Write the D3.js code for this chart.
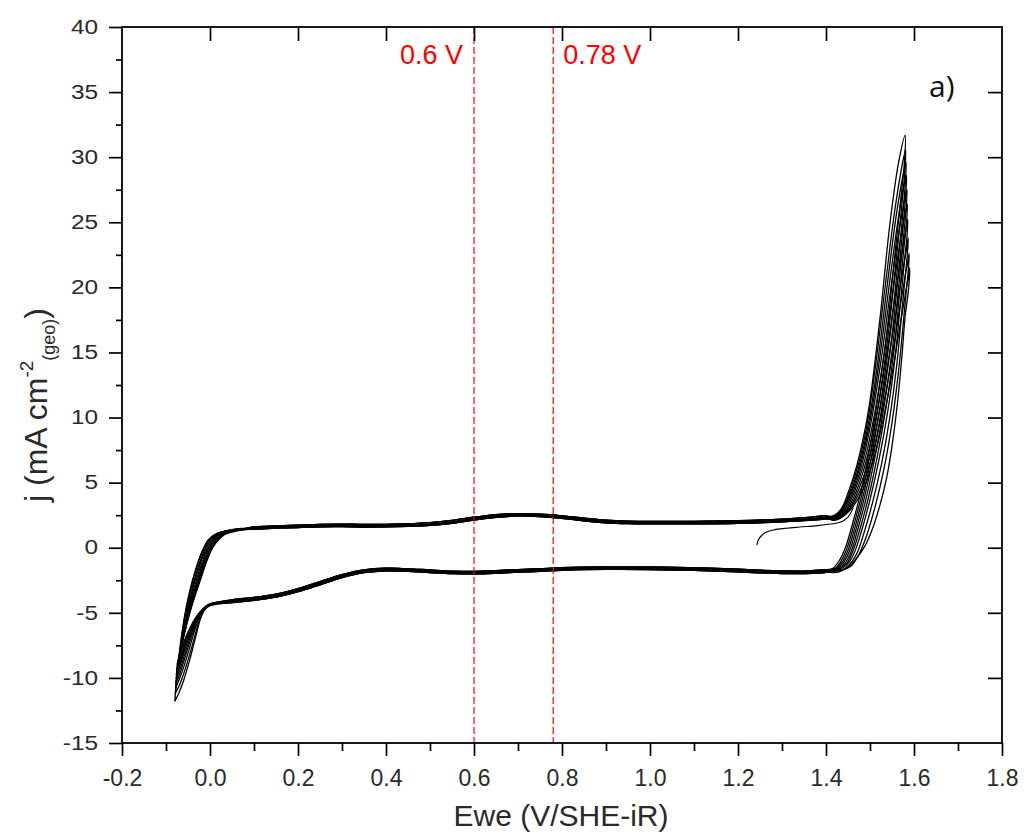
<!DOCTYPE html>
<html>
<head>
<meta charset="utf-8">
<script src="https://cdn.jsdelivr.net/npm/d3@7"></script>
<style>
  body { margin: 0; background: #fff; }
  svg { display: block; }
</style>
</head>
<body>
<svg id="chart" width="1024" height="835"></svg>
<script>
// ---- axis ticks ----
const xMajor = [-0.2, 0.0, 0.2, 0.4, 0.6, 0.8, 1.0, 1.2, 1.4, 1.6, 1.8];
const xMinor = [-0.1, 0.1, 0.3, 0.5, 0.7, 0.9, 1.1, 1.3, 1.5, 1.7];
const yMajor = [-15, -10, -5, 0, 5, 10, 15, 20, 25, 30, 35, 40];
const yMinor = [-12.5, -7.5, -2.5, 2.5, 7.5, 12.5, 17.5, 22.5, 27.5, 32.5, 37.5];

// ---- marked potentials (V) ----
const markers = [0.6, 0.78];
const markerLabels = ["0.6 V", "0.78 V"];

// ---- CV data: E (V vs SHE, iR-corrected), j (mA cm-2 geo) ----
// initial sweep from open-circuit potential
const firstSweep = [[1.243,0.2],[1.246,0.6],[1.255,0.98],[1.265,1.2],[1.28,1.36],[1.31,1.5],[1.34,1.59],[1.38,1.7],[1.41,1.82],[1.432,1.95],[1.45,2.35],[1.462,3.1]];

// anodic double-layer plateaus (0.10 -> 1.40 V)
const anodicPlateaus = [
  [[0.10,1.50],[0.15,1.58],[0.20,1.63],[0.25,1.70],[0.30,1.71],[0.35,1.67],[0.40,1.68],[0.45,1.72],[0.50,1.80],[0.55,1.97],[0.60,2.22],[0.65,2.42],[0.70,2.52],[0.75,2.47],[0.80,2.34],[0.85,2.16],[0.90,2.00],[0.95,1.93],[1.00,1.91],[1.10,1.92],[1.20,1.97],[1.30,2.08],[1.36,2.20],[1.40,2.32]],
  [[0.10,1.60],[0.15,1.68],[0.20,1.74],[0.25,1.80],[0.30,1.82],[0.35,1.79],[0.40,1.80],[0.45,1.84],[0.50,1.93],[0.55,2.10],[0.60,2.34],[0.65,2.54],[0.70,2.62],[0.75,2.58],[0.80,2.45],[0.85,2.27],[0.90,2.11],[0.95,2.04],[1.00,2.02],[1.10,2.03],[1.20,2.08],[1.30,2.20],[1.36,2.33],[1.40,2.45]],
  [[0.10,1.42],[0.15,1.50],[0.20,1.55],[0.25,1.61],[0.30,1.62],[0.35,1.59],[0.40,1.60],[0.45,1.64],[0.50,1.71],[0.55,1.88],[0.60,2.13],[0.65,2.33],[0.70,2.44],[0.75,2.39],[0.80,2.26],[0.85,2.07],[0.90,1.92],[0.95,1.85],[1.00,1.83],[1.10,1.84],[1.20,1.88],[1.30,1.99],[1.36,2.10],[1.40,2.22]]
];

// cathodic plateaus (1.40 -> 0.05 V)
const cathodicPlateaus = [
  [[1.40,-1.78],[1.35,-1.88],[1.30,-1.87],[1.25,-1.82],[1.20,-1.74],[1.10,-1.63],[1.00,-1.57],[0.90,-1.56],[0.80,-1.62],[0.75,-1.70],[0.70,-1.77],[0.65,-1.85],[0.60,-1.90],[0.55,-1.88],[0.50,-1.80],[0.45,-1.71],[0.40,-1.66],[0.35,-1.80],[0.30,-2.18],[0.25,-2.72],[0.20,-3.26],[0.15,-3.68],[0.10,-3.93],[0.05,-4.10]],
  [[1.40,-1.90],[1.35,-1.99],[1.30,-1.98],[1.25,-1.93],[1.20,-1.85],[1.10,-1.74],[1.00,-1.68],[0.90,-1.67],[0.80,-1.73],[0.75,-1.81],[0.70,-1.88],[0.65,-1.96],[0.60,-2.01],[0.55,-1.99],[0.50,-1.91],[0.45,-1.82],[0.40,-1.77],[0.35,-1.92],[0.30,-2.30],[0.25,-2.85],[0.20,-3.38],[0.15,-3.80],[0.10,-4.04],[0.05,-4.22]],
  [[1.40,-1.69],[1.35,-1.79],[1.30,-1.78],[1.25,-1.73],[1.20,-1.65],[1.10,-1.54],[1.00,-1.48],[0.90,-1.47],[0.80,-1.53],[0.75,-1.61],[0.70,-1.68],[0.65,-1.76],[0.60,-1.81],[0.55,-1.79],[0.50,-1.71],[0.45,-1.62],[0.40,-1.57],[0.35,-1.70],[0.30,-2.07],[0.25,-2.60],[0.20,-3.14],[0.15,-3.56],[0.10,-3.82],[0.05,-4.00]]
];

// which plateau each cycle follows
const plateauOfCycle = [0, 1, 2, 0, 1, 2, 0, 1, 2, 0];

// OER region, forward scans (1.42 V -> vertex)
const oerForward = [
  [[1.42,2.5],[1.435,3.0],[1.45,4.2],[1.47,6.3],[1.49,9.3],[1.50,11.3],[1.523,17.7],[1.545,24.8],[1.565,29.6],[1.580,31.7]],
  [[1.42,2.4],[1.44,3.2],[1.455,4.4],[1.475,6.6],[1.495,9.8],[1.515,14.6],[1.535,20.2],[1.555,25.6],[1.572,29.2],[1.581,30.6]],
  [[1.42,2.4],[1.44,3.1],[1.46,4.6],[1.48,6.9],[1.50,10.2],[1.52,14.9],[1.54,20.4],[1.56,25.6],[1.575,28.6],[1.582,29.6]],
  [[1.42,2.35],[1.44,3.0],[1.462,4.6],[1.483,7.0],[1.503,10.3],[1.523,14.8],[1.543,20.0],[1.563,25.0],[1.577,27.8],[1.583,28.6]],
  [[1.42,2.3],[1.442,2.95],[1.465,4.6],[1.486,7.0],[1.506,10.3],[1.526,14.6],[1.546,19.6],[1.566,24.3],[1.579,26.8],[1.584,27.5]],
  [[1.42,2.3],[1.444,2.9],[1.468,4.6],[1.49,7.0],[1.51,10.2],[1.53,14.4],[1.55,19.2],[1.569,23.6],[1.58,25.7],[1.585,26.4]],
  [[1.42,2.25],[1.446,2.85],[1.472,4.6],[1.494,7.0],[1.515,10.2],[1.535,14.2],[1.555,18.8],[1.572,22.6],[1.582,24.5],[1.586,25.2]],
  [[1.42,2.2],[1.45,2.9],[1.477,4.7],[1.50,7.1],[1.52,10.2],[1.54,14.0],[1.56,18.3],[1.576,21.6],[1.584,23.2],[1.587,23.8]],
  [[1.42,2.15],[1.452,2.9],[1.482,4.7],[1.505,7.1],[1.526,10.2],[1.546,13.8],[1.565,17.8],[1.579,20.7],[1.586,22.0],[1.589,22.6]],
  [[1.42,2.1],[1.455,2.9],[1.487,4.7],[1.51,7.0],[1.531,10.0],[1.551,13.5],[1.569,17.2],[1.582,19.8],[1.588,21.0],[1.590,21.5]]
];

// OER region, reverse scans (vertex -> cathodic plateau)
const oerReverse = [
  [[1.578,29.5],[1.57,26.8],[1.555,22.0],[1.54,17.0],[1.52,12.0],[1.50,7.8],[1.48,4.4],[1.46,1.8],[1.445,0.1],[1.43,-1.0],[1.415,-1.6]],
  [[1.579,28.8],[1.572,26.2],[1.558,21.6],[1.543,16.8],[1.523,11.8],[1.503,7.7],[1.483,4.3],[1.463,1.7],[1.448,0.0],[1.433,-1.1],[1.418,-1.7]],
  [[1.58,27.9],[1.574,25.4],[1.561,21.0],[1.546,16.4],[1.526,11.5],[1.506,7.5],[1.486,4.2],[1.466,1.6],[1.451,-0.1],[1.436,-1.15],[1.42,-1.6]],
  [[1.581,27.0],[1.575,24.6],[1.563,20.5],[1.549,16.0],[1.529,11.2],[1.509,7.3],[1.489,4.1],[1.469,1.5],[1.454,-0.2],[1.439,-1.2],[1.422,-1.65]],
  [[1.582,26.0],[1.576,23.8],[1.565,20.0],[1.552,15.6],[1.532,10.9],[1.512,7.1],[1.492,3.9],[1.472,1.4],[1.457,-0.3],[1.442,-1.25],[1.424,-1.75]],
  [[1.583,25.0],[1.577,23.0],[1.567,19.5],[1.555,15.3],[1.536,10.7],[1.516,6.9],[1.496,3.8],[1.476,1.3],[1.46,-0.35],[1.445,-1.3],[1.426,-1.6]],
  [[1.584,23.9],[1.578,21.9],[1.569,18.8],[1.558,14.9],[1.54,10.4],[1.52,6.7],[1.50,3.7],[1.48,1.2],[1.464,-0.4],[1.448,-1.3],[1.428,-1.7]],
  [[1.585,22.6],[1.58,20.8],[1.572,18.0],[1.562,14.4],[1.545,10.0],[1.526,6.4],[1.506,3.5],[1.486,1.1],[1.47,-0.45],[1.452,-1.35],[1.43,-1.85]],
  [[1.587,21.3],[1.582,19.6],[1.575,17.0],[1.565,13.6],[1.55,9.6],[1.532,6.1],[1.512,3.2],[1.492,0.9],[1.475,-0.5],[1.457,-1.4],[1.435,-1.7]],
  [[1.588,20.0],[1.58,17.8],[1.572,14.5],[1.562,11.0],[1.55,7.8],[1.538,5.4],[1.522,3.2],[1.505,1.4],[1.488,0.1],[1.472,-0.7],[1.455,-1.35],[1.435,-1.75]]
];

// HER region, cathodic scans (0.00 V -> lower vertex)
const herFall = [
  [[0.00,-4.38],[-0.012,-4.75],[-0.022,-5.5],[-0.033,-6.9],[-0.046,-8.6],[-0.059,-10.1],[-0.07,-11.1],[-0.080,-11.8]],
  [[0.00,-4.45],[-0.013,-4.8],[-0.024,-5.55],[-0.035,-6.85],[-0.048,-8.4],[-0.06,-9.7],[-0.07,-10.6],[-0.079,-11.2]],
  [[0.00,-4.35],[-0.014,-4.75],[-0.026,-5.5],[-0.038,-6.7],[-0.05,-8.1],[-0.062,-9.4],[-0.071,-10.2],[-0.078,-10.8]],
  [[0.00,-4.4],[-0.015,-4.8],[-0.028,-5.55],[-0.04,-6.6],[-0.052,-7.9],[-0.063,-9.1],[-0.071,-9.9],[-0.078,-10.4]],
  [[0.00,-4.32],[-0.015,-4.7],[-0.028,-5.4],[-0.041,-6.5],[-0.053,-7.7],[-0.064,-8.9],[-0.071,-9.6],[-0.077,-10.1]],
  [[0.00,-4.42],[-0.016,-4.8],[-0.03,-5.5],[-0.043,-6.5],[-0.055,-7.6],[-0.065,-8.7],[-0.071,-9.3],[-0.077,-9.8]],
  [[0.00,-4.3],[-0.016,-4.7],[-0.03,-5.35],[-0.043,-6.3],[-0.055,-7.4],[-0.065,-8.5],[-0.071,-9.1],[-0.076,-9.6]],
  [[0.00,-4.4],[-0.017,-4.8],[-0.031,-5.45],[-0.044,-6.35],[-0.056,-7.35],[-0.066,-8.35],[-0.071,-8.9],[-0.076,-9.4]],
  [[0.00,-4.33],[-0.017,-4.72],[-0.032,-5.35],[-0.045,-6.2],[-0.057,-7.2],[-0.066,-8.2],[-0.071,-8.7],[-0.075,-9.2]],
  [[0.00,-4.4],[-0.018,-4.8],[-0.033,-5.4],[-0.046,-6.2],[-0.058,-7.1],[-0.066,-7.9],[-0.071,-8.5],[-0.075,-9.0]]
];

// HER region, anodic scans (lower vertex -> 0.08 V)
const herRise = [
  [[-0.080,-11.8],[-0.075,-9.8],[-0.068,-7.6],[-0.058,-5.3],[-0.046,-3.3],[-0.033,-1.7],[-0.019,-0.35],[-0.004,0.6],[0.015,1.08],[0.04,1.30],[0.07,1.42]],
  [[-0.079,-11.2],[-0.073,-9.3],[-0.066,-7.3],[-0.056,-5.1],[-0.044,-3.2],[-0.031,-1.6],[-0.017,-0.3],[-0.002,0.62],[0.017,1.1],[0.042,1.33],[0.07,1.45]],
  [[-0.078,-10.8],[-0.072,-9.0],[-0.064,-7.0],[-0.054,-4.9],[-0.041,-3.1],[-0.028,-1.6],[-0.014,-0.3],[0.0,0.6],[0.019,1.12],[0.044,1.36],[0.072,1.48]],
  [[-0.078,-10.4],[-0.071,-8.7],[-0.062,-6.8],[-0.051,-4.8],[-0.038,-3.0],[-0.025,-1.5],[-0.011,-0.25],[0.003,0.62],[0.021,1.1],[0.046,1.34],[0.073,1.46]],
  [[-0.077,-10.1],[-0.07,-8.5],[-0.06,-6.6],[-0.049,-4.7],[-0.035,-2.95],[-0.022,-1.5],[-0.008,-0.25],[0.006,0.6],[0.023,1.08],[0.048,1.32],[0.074,1.44]],
  [[-0.077,-9.8],[-0.069,-8.3],[-0.059,-6.5],[-0.047,-4.6],[-0.032,-2.9],[-0.019,-1.45],[-0.005,-0.2],[0.008,0.58],[0.025,1.06],[0.05,1.3],[0.075,1.42]],
  [[-0.076,-9.6],[-0.068,-8.1],[-0.057,-6.3],[-0.044,-4.4],[-0.029,-2.75],[-0.016,-1.35],[-0.002,-0.15],[0.01,0.55],[0.027,1.04],[0.052,1.3],[0.076,1.42]],
  [[-0.076,-9.4],[-0.067,-7.9],[-0.055,-6.1],[-0.041,-4.2],[-0.026,-2.6],[-0.013,-1.25],[0.001,-0.1],[0.013,0.55],[0.029,1.03],[0.054,1.3],[0.077,1.42]],
  [[-0.075,-9.2],[-0.066,-7.7],[-0.053,-5.9],[-0.038,-4.0],[-0.023,-2.45],[-0.01,-1.15],[0.004,-0.05],[0.016,0.55],[0.031,1.02],[0.056,1.28],[0.078,1.4]],
  [[-0.075,-9.0],[-0.065,-7.5],[-0.051,-5.6],[-0.035,-3.8],[-0.02,-2.3],[-0.007,-1.0],[0.006,0.0],[0.018,0.55],[0.033,1.0],[0.058,1.27],[0.08,1.4]]
];

// ---- layout ----
const svg = d3.select("#chart");
const plotLeft = 122, plotTop = 27, plotRight = 1002, plotBottom = 743;

const x = d3.scaleLinear().domain([-0.2, 1.8]).range([plotLeft, plotRight]);
const y = d3.scaleLinear().domain([-15, 40]).range([plotBottom, plotTop]);

svg.append("rect").attr("width", 1024).attr("height", 835).attr("fill", "#fff");

svg.append("defs").append("clipPath").attr("id", "plotClip")
  .append("rect").attr("x", plotLeft).attr("y", plotTop)
  .attr("width", plotRight - plotLeft).attr("height", plotBottom - plotTop);

// ---- cycles: vertex -> anodic plateau -> OER -> cathodic plateau -> vertex ----
const cycles = herRise.map((rise, k) => {
  const p = plateauOfCycle[k];
  return [].concat(rise, anodicPlateaus[p], oerForward[k], oerReverse[k], cathodicPlateaus[p], herFall[k]);
});

const line = d3.line()
  .x(d => x(d[0]))
  .y(d => y(d[1]))
  .curve(d3.curveCatmullRom.alpha(0.5));

const plot = svg.append("g").attr("clip-path", "url(#plotClip)");

plot.selectAll("path.cycle")
  .data(cycles)
  .join("path")
  .attr("class", "cycle")
  .attr("d", line)
  .attr("fill", "none")
  .attr("stroke", "#000")
  .attr("stroke-width", 1.3)
  .attr("stroke-linejoin", "round");

plot.append("path")
  .datum(firstSweep)
  .attr("d", line)
  .attr("fill", "none")
  .attr("stroke", "#000")
  .attr("stroke-width", 1.1);

// ---- marker lines ----
plot.selectAll("line.marker")
  .data(markers)
  .join("line")
  .attr("class", "marker")
  .attr("x1", d => x(d)).attr("x2", d => x(d))
  .attr("y1", plotTop).attr("y2", plotBottom)
  .attr("stroke", "#ff0000")
  .attr("stroke-width", 1.2)
  .attr("stroke-dasharray", "7,3");

svg.append("text")
  .attr("x", x(markers[0]) - 11).attr("y", 64)
  .attr("text-anchor", "end")
  .attr("font-family", "'Liberation Sans', Arial, sans-serif")
  .attr("font-size", 27)
  .attr("fill", "#ff0000")
  .text(markerLabels[0]);

svg.append("text")
  .attr("x", x(markers[1]) + 10).attr("y", 64)
  .attr("text-anchor", "start")
  .attr("font-family", "'Liberation Sans', Arial, sans-serif")
  .attr("font-size", 27)
  .attr("fill", "#ff0000")
  .text(markerLabels[1]);

// ---- axes ----
const tickColor = "#000";
const labelColor = "#2a2a2a";

function styleAxis(g) {
  g.select(".domain").remove();
  g.selectAll(".tick line").attr("stroke", tickColor).attr("stroke-width", 1.7);
}

// bottom
svg.append("g").attr("transform", `translate(0,${plotBottom})`)
  .call(d3.axisBottom(x).tickValues(xMinor).tickSize(8).tickFormat(""))
  .call(styleAxis);
const gx = svg.append("g").attr("transform", `translate(0,${plotBottom})`)
  .call(d3.axisBottom(x).tickValues(xMajor).tickSize(13).tickPadding(14).tickFormat(d => d.toFixed(1)))
  .call(styleAxis);
gx.selectAll(".tick text")
  .attr("font-family", "'Liberation Sans', Arial, sans-serif")
  .attr("font-size", 23)
  .attr("fill", labelColor);

// left
svg.append("g").attr("transform", `translate(${plotLeft},0)`)
  .call(d3.axisLeft(y).tickValues(yMinor).tickSize(6).tickFormat(""))
  .call(styleAxis);
const gy = svg.append("g").attr("transform", `translate(${plotLeft},0)`)
  .call(d3.axisLeft(y).tickValues(yMajor).tickSize(13).tickPadding(11).tickFormat(d => String(d)))
  .call(styleAxis);
const yLabelStretch = 1.25;
gy.selectAll(".tick text")
  .attr("font-family", "'Liberation Sans', Arial, sans-serif")
  .attr("font-size", 19.5)
  .attr("fill", labelColor)
  .attr("x", -24 / yLabelStretch)
  .attr("transform", `scale(${yLabelStretch},1)`);

// top and right: inward ticks, no labels
svg.append("g").attr("transform", `translate(0,${plotTop})`)
  .call(d3.axisTop(x).tickValues(xMajor.slice(1, -1)).tickSize(-14).tickFormat(""))
  .call(styleAxis);
svg.append("g").attr("transform", `translate(${plotRight},0)`)
  .call(d3.axisRight(y).tickValues(yMajor.slice(1, -1)).tickSize(-14).tickFormat(""))
  .call(styleAxis);

// frame
svg.append("rect")
  .attr("x", plotLeft).attr("y", plotTop)
  .attr("width", plotRight - plotLeft).attr("height", plotBottom - plotTop)
  .attr("fill", "none").attr("stroke", "#000").attr("stroke-width", 1.8);

// ---- titles ----
svg.append("text")
  .attr("x", 561).attr("y", 826)
  .attr("text-anchor", "middle")
  .attr("font-family", "'Liberation Sans', Arial, sans-serif")
  .attr("font-size", 30)
  .attr("fill", labelColor)
  .text("Ewe (V/SHE-iR)");

const yTitle = svg.append("text")
  .attr("transform", "translate(47,502) rotate(-90)")
  .attr("text-anchor", "start")
  .attr("font-family", "'Liberation Sans', Arial, sans-serif")
  .attr("font-size", 32)
  .attr("fill", labelColor);
yTitle.append("tspan").text("j (mA cm");
yTitle.append("tspan").attr("font-size", 19).attr("dy", -14).text("-2");
yTitle.append("tspan").attr("font-size", 18).attr("dy", 22).text("(geo)");
yTitle.append("tspan").attr("dy", -8).text(")");

// panel tag
svg.append("text")
  .attr("x", 929).attr("y", 97)
  .attr("font-family", "'Open Sans', sans-serif")
  .attr("font-size", 30)
  .attr("fill", "#111")
  .text("a)");
</script>
</body>
</html>
